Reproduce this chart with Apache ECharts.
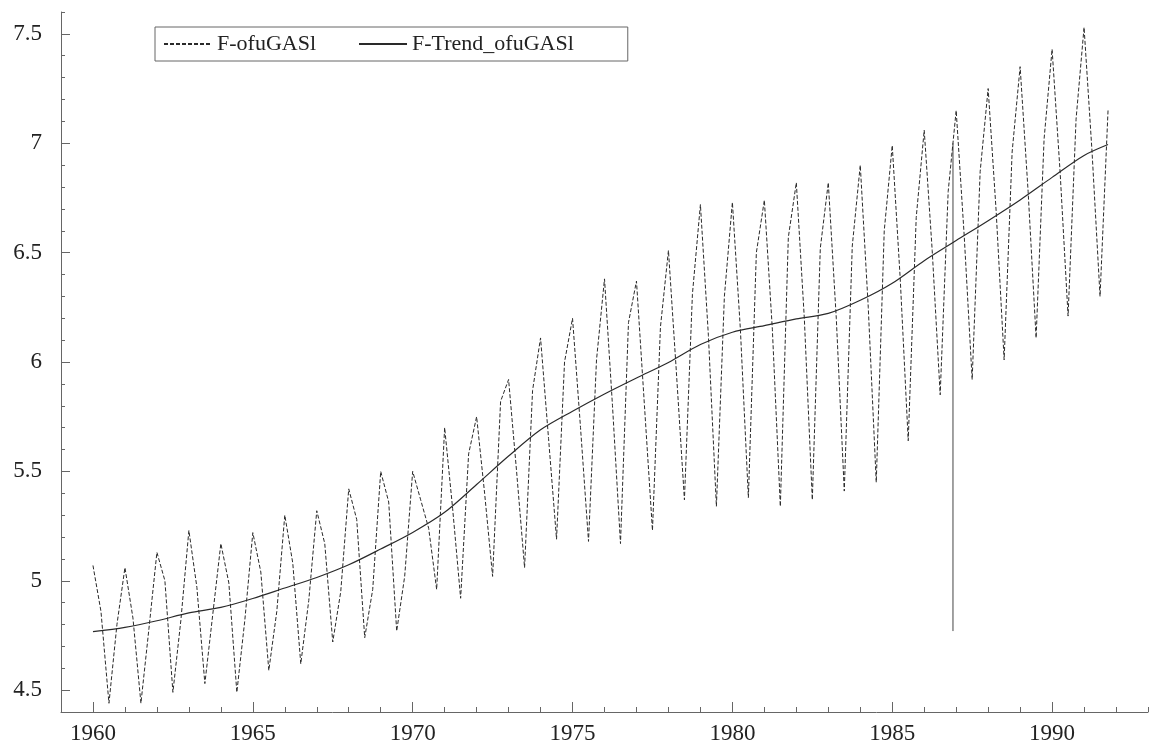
<!DOCTYPE html>
<html><head><meta charset="utf-8">
<script src="https://cdn.jsdelivr.net/npm/echarts@6/dist/echarts.min.js"></script>
<style>html,body{margin:0;padding:0;background:#fff}#c{width:1160px;height:750px}</style>
</head><body><div id="c"></div>
<script>
// quarterly series F-ofuGASl, 1960Q1 .. 1991Q4 (rows = years, Q1..Q4)
const startYear = 1960;
const seriesValues = [
  5.07, 4.86, 4.44, 4.80,
  5.06, 4.83, 4.44, 4.78,
  5.13, 5.00, 4.49, 4.82,
  5.23, 4.97, 4.53, 4.85,
  5.17, 4.99, 4.49, 4.82,
  5.22, 5.04, 4.59, 4.86,
  5.30, 5.08, 4.62, 4.91,
  5.32, 5.17, 4.72, 4.95,
  5.42, 5.28, 4.74, 4.96,
  5.50, 5.36, 4.77, 5.02,
  5.50, 5.37, 5.24, 4.96,
  5.70, 5.33, 4.92, 5.58,
  5.75, 5.40, 5.02, 5.82,
  5.92, 5.50, 5.06, 5.87,
  6.11, 5.65, 5.19, 6.00,
  6.20, 5.70, 5.18, 6.01,
  6.38, 5.80, 5.17, 6.18,
  6.37, 5.80, 5.23, 6.16,
  6.51, 5.95, 5.37, 6.31,
  6.72, 6.12, 5.34, 6.30,
  6.73, 6.15, 5.38, 6.50,
  6.74, 6.15, 5.34, 6.57,
  6.82, 6.20, 5.37, 6.52,
  6.82, 6.20, 5.41, 6.53,
  6.90, 6.25, 5.45, 6.60,
  6.99, 6.38, 5.64, 6.66,
  7.06, 6.51, 5.85, 6.78,
  7.15, 6.58, 5.92, 6.87,
  7.25, 6.69, 6.01, 6.96,
  7.35, 6.78, 6.11, 7.02,
  7.43, 6.87, 6.21, 7.11,
  7.53, 6.96, 6.30, 7.15
];
// trend F-Trend_ofuGASl read at the start of each year (plus the last quarter)
const trendYears = [1960,1961,1962,1963,1964,1965,1966,1967,1968,1969,1970,1971,1972,1973,1974,1975,1976,1977,1978,1979,1980,1981,1982,1983,1984,1985,1986,1987,1988,1989,1990,1991,1991.75];
const trendValues = [4.767,4.787,4.817,4.853,4.878,4.919,4.967,5.015,5.073,5.145,5.221,5.313,5.44,5.57,5.69,5.775,5.854,5.927,5.998,6.08,6.136,6.166,6.197,6.222,6.282,6.36,6.463,6.555,6.646,6.741,6.844,6.944,6.994];
// stray vertical line in the reference
const vlineX = [1986.9, 1986.9];
const vlineY = [4.77, 7.0];
// tick labels
const xTickLabels = [1960,1965,1970,1975,1980,1985,1990];
const yTickLabels = [4.5,5,5.5,6,6.5,7,7.5];
const seriesNames = ['F-ofuGASl','F-Trend_ofuGASl'];

const serif = 'Liberation Serif, Times New Roman, serif';
const axisCol = '#666';
const lineCol = '#2a2a2a';

const seriesData = seriesValues.map((v,i)=>[startYear + i/4, v]);
const trendData = trendYears.map((y,i)=>[y, trendValues[i]]);
const vlineData = vlineX.map((x,i)=>[x, vlineY[i]]);

const chart = echarts.init(document.getElementById('c'), null, {renderer:'canvas'});
chart.setOption({
  animation:false,
  backgroundColor:'#fff',
  grid:{left:61, right:12, top:12, bottom:38, containLabel:false},
  legend:{
    data:seriesNames,
    left:155, top:27,
    orient:'horizontal',
    padding:[5,54,5,8],
    itemWidth:48, itemHeight:14, itemGap:42,
    borderColor:'#666', borderWidth:1, borderRadius:0,
    backgroundColor:'#fff',
    itemStyle:{opacity:0},
    textStyle:{fontFamily:serif, fontSize:22, color:'#222', lineHeight:24},
    inactiveColor:'#ccc'
  },
  xAxis:[{
    type:'value', min:1959, max:1993, interval:1,
    axisLine:{show:true, onZero:false, lineStyle:{color:axisCol, width:1}},
    axisTick:{show:true, inside:true, length:5, lineStyle:{color:axisCol}},
    axisLabel:{show:true, customValues:xTickLabels, margin:10, fontFamily:serif, fontSize:23, color:'#222', formatter:v=>String(v)},
    splitLine:{show:false}
  },{
    type:'value', min:1959, max:1993, position:'bottom', gridIndex:0,
    axisLine:{show:false, onZero:false},
    axisTick:{show:true, inside:true, length:10, customValues:xTickLabels, lineStyle:{color:axisCol}},
    axisLabel:{show:false, customValues:xTickLabels},
    splitLine:{show:false}
  }],
  yAxis:[{
    type:'value', min:4.4, max:7.6, interval:0.1,
    axisLine:{show:true, onZero:false, lineStyle:{color:axisCol, width:1}},
    axisTick:{show:true, inside:true, length:4, lineStyle:{color:axisCol}},
    axisLabel:{show:true, customValues:yTickLabels, margin:19, fontFamily:serif, fontSize:23, color:'#222', formatter:v=>String(v)},
    splitLine:{show:false}
  },{
    type:'value', min:4.4, max:7.6, position:'left', gridIndex:0,
    axisLine:{show:false, onZero:false},
    axisTick:{show:true, inside:true, length:9, customValues:yTickLabels, lineStyle:{color:axisCol}},
    axisLabel:{show:false, customValues:yTickLabels},
    splitLine:{show:false}
  }],
  series:[
    {name:seriesNames[0], type:'line', data:seriesData, symbol:'none', symbolSize:0, showSymbol:false,
     lineStyle:{color:lineCol, width:1, type:[4,2]}, itemStyle:{color:lineCol}, z:3},
    {name:seriesNames[1], type:'line', data:trendData, symbol:'none', symbolSize:0, showSymbol:false, smooth:0.3,
     lineStyle:{color:lineCol, width:1.2, type:'solid'}, itemStyle:{color:lineCol}, z:4},
    {name:'vline', type:'line', data:vlineData, symbol:'none', showSymbol:false,
     lineStyle:{color:'#444', width:1}, itemStyle:{color:'#444'}, z:2}
  ]
});
</script></body></html>
